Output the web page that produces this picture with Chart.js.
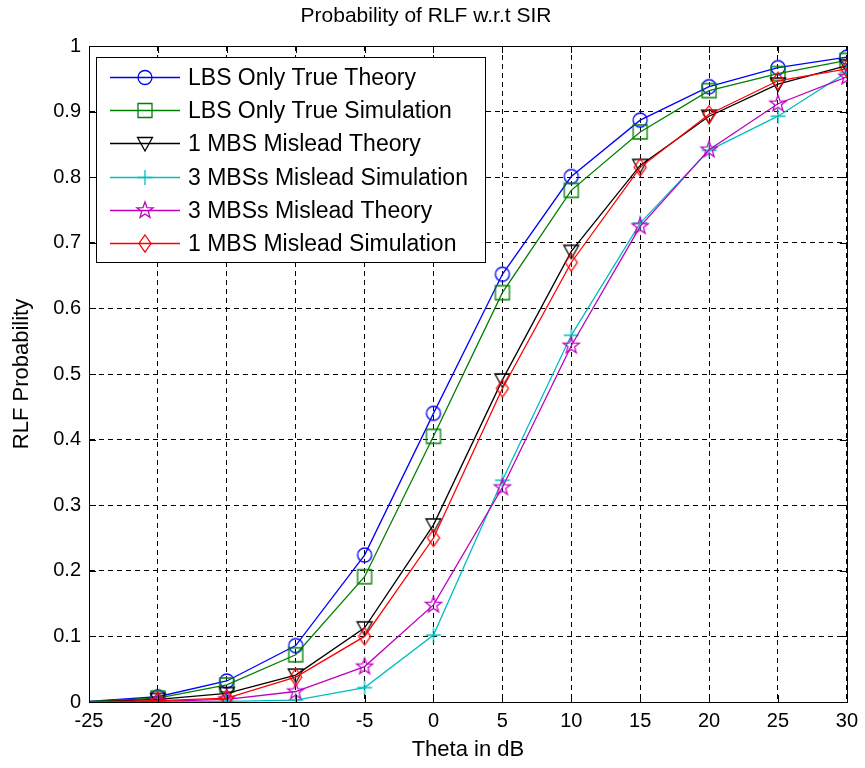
<!DOCTYPE html>
<html><head><meta charset="utf-8">
<script src="https://cdn.jsdelivr.net/npm/chart.js@4/dist/chart.umd.min.js"></script>
<style>html,body{margin:0;padding:0;background:#fff}#wrap{width:865px;height:768px}</style>
</head><body><div id="wrap"><canvas id="c" width="865" height="768"></canvas></div>
<script>
// ---- data ----
const theta = [-25, -20, -15, -10, -5, 0, 5, 10, 15, 20, 25, 30];
const lbsTheory  = [0.001, 0.008, 0.032, 0.086, 0.224, 0.440, 0.652, 0.801, 0.887, 0.938, 0.967, 0.983];
const lbsSim     = [0.001, 0.006, 0.026, 0.072, 0.191, 0.405, 0.624, 0.780, 0.869, 0.932, 0.958, 0.978];
const mbs1Theory = [0.000, 0.004, 0.013, 0.041, 0.113, 0.270, 0.491, 0.687, 0.818, 0.893, 0.942, 0.970];
const mbs3Sim    = [0.000, 0.000, 0.001, 0.003, 0.022, 0.102, 0.338, 0.559, 0.730, 0.841, 0.893, 0.960];
const mbs3Theory = [0.000, 0.001, 0.004, 0.016, 0.054, 0.148, 0.327, 0.543, 0.725, 0.842, 0.912, 0.953];
const mbs1Sim    = [0.000, 0.002, 0.006, 0.038, 0.100, 0.250, 0.478, 0.670, 0.815, 0.896, 0.947, 0.965];
const seriesNames = ['LBS Only True Theory', 'LBS Only True Simulation', '1 MBS Mislead Theory',
                     '3 MBSs Mislead Simulation', '3 MBSs Mislead Theory', '1 MBS Mislead Simulation'];
const xTicks = [-25, -20, -15, -10, -5, 0, 5, 10, 15, 20, 25, 30];
const xTickLabels = ['-25', '-20', '-15', '-10', '-5', '0', '5', '10', '15', '20', '25', '30'];
const yTicks = [0, 0.1, 0.2, 0.3, 0.4, 0.5, 0.6, 0.7, 0.8, 0.9, 1];
const yTickLabels = ['0', '0.1', '0.2', '0.3', '0.4', '0.5', '0.6', '0.7', '0.8', '0.9', '1'];
const titleText = 'Probability of RLF w.r.t SIR';
const xTitle = 'Theta in dB';
const yTitle = 'RLF Probability';

// ---- styles ----
const seriesValues = [lbsTheory, lbsSim, mbs1Theory, mbs3Sim, mbs3Theory, mbs1Sim];
const colors = ['#0000FF', '#008000', '#000000', '#00BFBF', '#BF00BF', '#FF0000'];
const markers = ['circle', 'square', 'triDown', 'plus', 'pentagram', 'diamond'];
const FONT = '"Liberation Sans", Arial, sans-serif';
const LW = 1.3;

function drawMarker(g, kind, color, x, y) {
  g.save();
  g.strokeStyle = color; g.lineWidth = LW; g.beginPath();
  if (kind === 'circle') { g.arc(x, y, 7, 0, Math.PI * 2); }
  else if (kind === 'square') { g.rect(x - 7, y - 7, 14, 14); }
  else if (kind === 'triDown') { g.moveTo(x - 7.5, y - 6); g.lineTo(x + 7.5, y - 6); g.lineTo(x, y + 7.5); g.closePath(); }
  else if (kind === 'plus') { g.moveTo(x - 7.5, y); g.lineTo(x + 7.5, y); g.moveTo(x, y - 7.5); g.lineTo(x, y + 7.5); }
  else if (kind === 'pentagram') {
    for (let k = 0; k < 10; k++) {
      const r = (k % 2 === 0) ? 8.5 : 3.5;
      const a = -Math.PI / 2 + k * Math.PI / 5;
      const px = x + r * Math.cos(a), py = y + r * Math.sin(a);
      if (k === 0) g.moveTo(px, py); else g.lineTo(px, py);
    }
    g.closePath();
  }
  else if (kind === 'diamond') { g.moveTo(x, y - 8.5); g.lineTo(x + 6, y); g.lineTo(x, y + 8.5); g.lineTo(x - 6, y); g.closePath(); }
  g.stroke();
  g.restore();
}
function markerCanvas(kind, color) {
  const s = 24; const c = document.createElement('canvas'); c.width = s; c.height = s;
  drawMarker(c.getContext('2d'), kind, color, s / 2, s / 2);
  return c;
}

const datasets = seriesValues.map((vals, i) => ({
  label: seriesNames[i],
  data: theta.map((t, j) => ({ x: t, y: vals[j] })),
  borderColor: colors[i],
  backgroundColor: colors[i],
  borderWidth: LW,
  pointStyle: markerCanvas(markers[i], colors[i]),
  pointRadius: ctx => (ctx.dataIndex === 0 ? 0 : 7),
  tension: 0,
  order: seriesValues.length - i
}));

const frame = {
  id: 'frame',
  afterDraw(chart) {
    const { ctx, chartArea: a } = chart;
    const xs = chart.scales.x, ys = chart.scales.y;
    ctx.save();
    ctx.strokeStyle = '#000'; ctx.lineWidth = 1;
    ctx.strokeRect(Math.round(a.left) + 0.5, Math.round(a.top) + 0.5, Math.round(a.right - a.left), Math.round(a.bottom - a.top));
    ctx.beginPath();
    xTicks.forEach(v => {
      const px = Math.round(xs.getPixelForValue(v)) + 0.5;
      ctx.moveTo(px, a.bottom); ctx.lineTo(px, a.bottom - 7);
      ctx.moveTo(px, a.top); ctx.lineTo(px, a.top + 7);
    });
    yTicks.forEach(v => {
      const py = Math.round(ys.getPixelForValue(v)) + 0.5;
      ctx.moveTo(a.left, py); ctx.lineTo(a.left + 7, py);
      ctx.moveTo(a.right, py); ctx.lineTo(a.right - 7, py);
    });
    ctx.stroke();
    // legend
    const bx = 96.5, by = 57.5, bw = 389, bh = 205;
    ctx.fillStyle = '#fff';
    ctx.fillRect(bx, by, bw, bh);
    ctx.strokeRect(bx, by, bw, bh);
    ctx.font = '23px ' + FONT;
    ctx.textBaseline = 'middle';
    ctx.textAlign = 'left';
    chart.data.datasets.forEach((ds, i) => {
      const y = Math.round(77 + i * 33.2) + 0.5;
      ctx.strokeStyle = colors[i]; ctx.lineWidth = LW;
      ctx.beginPath(); ctx.moveTo(110, y); ctx.lineTo(180, y); ctx.stroke();
      drawMarker(ctx, markers[i], colors[i], 145, y);
      ctx.fillStyle = '#000';
      ctx.fillText(ds.label, 188, y + 1);
    });
    ctx.restore();
  }
};

new Chart(document.getElementById('c'), {
  type: 'line',
  data: { datasets },
  options: {
    responsive: false,
    animation: false,
    events: [],
    layout: { padding: { left: 0, right: 13, top: 0, bottom: 0 } },
    plugins: {
      legend: { display: false },
      tooltip: { enabled: false },
      title: { display: true, text: titleText, color: '#000', font: { family: FONT, size: 21, weight: 'normal' }, padding: { top: 4, bottom: 16.8 } }
    },
    scales: {
      x: {
        type: 'linear', min: -25, max: 30,
        afterBuildTicks: s => { s.ticks = xTicks.map(v => ({ value: v })); },
        afterFit: s => { s.height = 66; },
        ticks: { color: '#000', font: { family: FONT, size: 20 }, padding: 7, maxRotation: 0, autoSkip: false,
                 callback: (v, i) => xTickLabels[i] },
        grid: { color: '#000', lineWidth: 1, drawTicks: false },
        border: { display: true, color: '#000', width: 1, dash: [5, 4] },
        title: { display: true, text: xTitle, color: '#000', font: { family: FONT, size: 22 }, padding: { top: 0, bottom: 5 } }
      },
      y: {
        type: 'linear', min: 0, max: 1,
        afterBuildTicks: s => { s.ticks = yTicks.map(v => ({ value: v })); },
        afterFit: s => { s.width = 89; },
        ticks: { color: '#000', font: { family: FONT, size: 20 }, padding: 8, autoSkip: false,
                 callback: (v, i) => yTickLabels[i] },
        grid: { color: '#000', lineWidth: 1, drawTicks: false },
        border: { display: true, color: '#000', width: 1, dash: [5, 4] },
        title: { display: true, text: yTitle, color: '#000', font: { family: FONT, size: 22 }, padding: { top: 9, bottom: 0 } }
      }
    }
  },
  plugins: [frame]
});
</script>
</body></html>
